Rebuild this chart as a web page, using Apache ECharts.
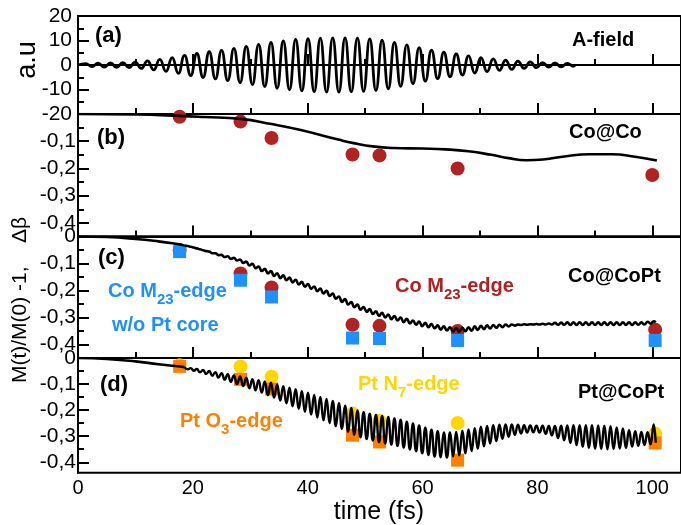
<!DOCTYPE html>
<html><head><meta charset="utf-8">
<script src="https://cdn.jsdelivr.net/npm/echarts@6/dist/echarts.min.js"></script>
<style>html,body{margin:0;padding:0;background:#fff}#c{width:681px;height:525px}</style>
</head><body><div id="c"></div>
<script>
// ---------- data ----------
const xTickLabels = [0, 20, 40, 60, 80, 100];
const yTicksA = [20, 10, 0, -10, -20];
const yTicksM = [0, -0.1, -0.2, -0.3, -0.4];
const yMinorM = [-0.05, -0.15, -0.25, -0.35];

// (a) A-field : extrema
const aField = [[0,0],[1.35,0.6],[2.43,-0.7],[3.5,0.8],[4.58,-0.9],[5.65,0.9],[6.73,-1.0],[7.8,1.0],[8.88,-1.1],[9.95,1.2],[11.03,-1.4],[12.1,1.7],[13.18,-2.0],[14.25,2.3],[15.33,-2.6],[16.4,3.0],[17.48,-3.4],[18.55,3.9],[19.63,-4.3],[20.7,4.7],[21.78,-5.1],[22.85,5.4],[23.93,-5.7],[25,6.0],[26.08,-6.4],[27.15,6.8],[28.23,-7.2],[29.3,7.6],[30.38,-8.0],[31.45,8.4],[32.53,-8.8],[33.6,9.2],[34.68,-9.5],[35.75,9.8],[36.83,-10.1],[37.9,10.4],[38.98,-10.6],[40.05,10.8],[41.13,-10.9],[42.2,11.0],[43.28,-11.1],[44.35,11.1],[45.43,-11.1],[46.5,11.1],[47.58,-11.0],[48.65,11.0],[49.73,-10.8],[50.8,10.7],[51.88,-10.4],[52.95,10.1],[54.03,-9.7],[55.1,9.2],[56.18,-8.7],[57.25,8.2],[58.33,-7.6],[59.4,7.1],[60.48,-6.6],[61.55,6.1],[62.63,-5.6],[63.7,5.2],[64.78,-4.8],[65.85,4.5],[66.93,-4.1],[68,3.7],[69.08,-3.3],[70.15,3.0],[71.23,-2.7],[72.3,2.5],[73.38,-2.2],[74.45,2.0],[75.53,-1.8],[76.6,1.6],[77.68,-1.4],[78.75,1.3],[79.83,-1.1],[80.9,1.0],[81.98,-0.9],[83.05,0.9],[84.13,-0.8],[85.2,0.7],[86.28,-0.5],[86.6,0]];

// (b) Co@Co
const coCoLine = [[0,0],[10,-0.002],[17.7,-0.007],[22,-0.011],[28.3,-0.018],[33.7,-0.037],[38.6,-0.058],[45.5,-0.095],[48,-0.107],[51.3,-0.119],[55,-0.125],[60,-0.127],[64,-0.130],[68,-0.137],[72,-0.150],[75,-0.162],[78,-0.170],[81,-0.167],[85,-0.155],[89,-0.148],[93,-0.148],[97,-0.157],[100.8,-0.171]];
const coCoTimes = [17.7, 28.3, 33.7, 47.8, 52.5, 66.1, 100];
const coCoPoints = [-0.01, -0.028, -0.088, -0.149, -0.152, -0.2, -0.224];

// (c) Co@CoPt
const coCoPtStart = [[0,0],[5,-0.002],[10,-0.009],[14,-0.018],[17,-0.027],[18.55,-0.033]];
const coCoPtOsc = [[18.55,-0.033],[19.09,-0.035],[19.63,-0.038],[20.16,-0.041],[20.7,-0.044],[21.24,-0.047],[21.78,-0.051],[22.31,-0.054],[22.85,-0.056],[23.39,-0.062],[23.93,-0.062],[24.46,-0.069],[25.0,-0.068],[25.54,-0.076],[26.08,-0.073],[26.61,-0.083],[27.15,-0.079],[27.69,-0.089],[28.23,-0.085],[28.76,-0.098],[29.3,-0.093],[29.84,-0.107],[30.38,-0.101],[30.91,-0.117],[31.45,-0.111],[31.99,-0.128],[32.53,-0.120],[33.06,-0.137],[33.6,-0.128],[34.14,-0.146],[34.68,-0.136],[35.21,-0.154],[35.75,-0.144],[36.29,-0.162],[36.83,-0.152],[37.36,-0.170],[37.9,-0.160],[38.44,-0.178],[38.98,-0.168],[39.51,-0.186],[40.05,-0.176],[40.59,-0.194],[41.13,-0.185],[41.66,-0.203],[42.2,-0.193],[42.74,-0.211],[43.28,-0.201],[43.81,-0.220],[44.35,-0.211],[44.89,-0.230],[45.43,-0.222],[45.96,-0.242],[46.5,-0.232],[47.04,-0.252],[47.58,-0.243],[48.11,-0.262],[48.65,-0.252],[49.19,-0.271],[49.73,-0.261],[50.26,-0.279],[50.8,-0.269],[51.34,-0.287],[51.88,-0.277],[52.41,-0.294],[52.95,-0.283],[53.49,-0.300],[54.03,-0.289],[54.56,-0.306],[55.1,-0.295],[55.64,-0.311],[56.18,-0.300],[56.71,-0.317],[57.25,-0.305],[57.79,-0.322],[58.33,-0.311],[58.86,-0.327],[59.4,-0.315],[59.94,-0.332],[60.48,-0.320],[61.01,-0.336],[61.55,-0.324],[62.09,-0.340],[62.63,-0.329],[63.16,-0.345],[63.7,-0.333],[64.24,-0.348],[64.78,-0.336],[65.31,-0.352],[65.85,-0.339],[66.39,-0.353],[66.93,-0.338],[67.46,-0.351],[68.0,-0.336],[68.54,-0.349],[69.08,-0.333],[69.61,-0.346],[70.15,-0.331],[70.69,-0.343],[71.23,-0.329],[71.76,-0.341],[72.3,-0.328],[72.84,-0.338],[73.38,-0.327],[73.91,-0.336],[74.45,-0.326],[74.99,-0.333],[75.53,-0.326],[76.06,-0.330],[76.6,-0.326],[77.14,-0.328],[77.68,-0.325],[78.21,-0.327],[78.75,-0.325],[79.29,-0.326],[79.83,-0.324],[80.36,-0.326],[80.9,-0.323],[81.44,-0.326],[81.98,-0.322],[82.51,-0.326],[83.05,-0.320],[83.59,-0.327],[84.13,-0.319],[84.66,-0.327],[85.2,-0.318],[85.74,-0.328],[86.28,-0.318],[86.81,-0.328],[87.35,-0.318],[87.89,-0.328],[88.43,-0.318],[88.96,-0.328],[89.5,-0.318],[90.04,-0.328],[90.58,-0.318],[91.11,-0.328],[91.65,-0.318],[92.19,-0.328],[92.73,-0.318],[93.26,-0.328],[93.8,-0.318],[94.34,-0.328],[94.88,-0.318],[95.41,-0.328],[95.95,-0.318],[96.49,-0.328],[97.03,-0.318],[97.56,-0.327],[98.1,-0.318],[98.64,-0.326],[99.18,-0.316],[99.71,-0.323],[100.25,-0.314],[100.6,-0.318]];
const edgeTimes = [17.7, 28.3, 33.7, 47.8, 52.5, 66.1, 100.5];
const coM23 = [-0.05, -0.137, -0.189, -0.327, -0.331, -0.35, -0.345];
const coM23NoPt = [-0.056, -0.162, -0.224, -0.376, -0.378, -0.385, -0.385];

// (d) Pt@CoPt
const ptCoPtStart = [[0,0],[5,-0.004],[10,-0.013],[14,-0.024],[17,-0.031],[18.55,-0.035]];
const ptCoPtOsc = [[18.55,-0.035],[19.09,-0.043],[19.63,-0.039],[20.16,-0.049],[20.7,-0.042],[21.24,-0.055],[21.78,-0.046],[22.31,-0.061],[22.85,-0.050],[23.39,-0.068],[23.93,-0.054],[24.46,-0.075],[25.0,-0.058],[25.54,-0.083],[26.08,-0.062],[26.61,-0.091],[27.15,-0.067],[27.69,-0.100],[28.23,-0.071],[28.76,-0.108],[29.3,-0.076],[29.84,-0.116],[30.38,-0.081],[30.91,-0.124],[31.45,-0.085],[31.99,-0.133],[32.53,-0.090],[33.06,-0.143],[33.6,-0.095],[34.14,-0.152],[34.68,-0.101],[35.21,-0.163],[35.75,-0.108],[36.29,-0.174],[36.83,-0.114],[37.36,-0.185],[37.9,-0.120],[38.44,-0.195],[38.98,-0.127],[39.51,-0.206],[40.05,-0.133],[40.59,-0.217],[41.13,-0.142],[41.66,-0.228],[42.2,-0.149],[42.74,-0.239],[43.28,-0.157],[43.81,-0.250],[44.35,-0.165],[44.89,-0.261],[45.43,-0.173],[45.96,-0.272],[46.5,-0.183],[47.04,-0.283],[47.58,-0.192],[48.11,-0.295],[48.65,-0.201],[49.19,-0.304],[49.73,-0.208],[50.26,-0.311],[50.8,-0.214],[51.34,-0.317],[51.88,-0.218],[52.41,-0.323],[52.95,-0.222],[53.49,-0.328],[54.03,-0.226],[54.56,-0.333],[55.1,-0.232],[55.64,-0.338],[56.18,-0.237],[56.71,-0.344],[57.25,-0.244],[57.79,-0.351],[58.33,-0.251],[58.86,-0.358],[59.4,-0.259],[59.94,-0.366],[60.48,-0.267],[61.01,-0.372],[61.55,-0.275],[62.09,-0.378],[62.63,-0.281],[63.16,-0.381],[63.7,-0.286],[64.24,-0.382],[64.78,-0.286],[65.31,-0.378],[65.85,-0.284],[66.39,-0.373],[66.93,-0.279],[67.46,-0.366],[68.0,-0.274],[68.54,-0.357],[69.08,-0.269],[69.61,-0.348],[70.15,-0.264],[70.69,-0.339],[71.23,-0.261],[71.76,-0.328],[72.3,-0.258],[72.84,-0.319],[73.38,-0.256],[73.91,-0.310],[74.45,-0.255],[74.99,-0.302],[75.53,-0.255],[76.06,-0.295],[76.6,-0.256],[77.14,-0.290],[77.68,-0.258],[78.21,-0.286],[78.75,-0.259],[79.29,-0.285],[79.83,-0.260],[80.36,-0.286],[80.9,-0.260],[81.44,-0.291],[81.98,-0.261],[82.51,-0.297],[83.05,-0.261],[83.59,-0.307],[84.13,-0.260],[84.66,-0.316],[85.2,-0.259],[85.74,-0.326],[86.28,-0.258],[86.81,-0.334],[87.35,-0.258],[87.89,-0.341],[88.43,-0.258],[88.96,-0.345],[89.5,-0.258],[90.04,-0.348],[90.58,-0.259],[91.11,-0.349],[91.65,-0.260],[92.19,-0.350],[92.73,-0.262],[93.26,-0.349],[93.8,-0.266],[94.34,-0.347],[94.88,-0.270],[95.41,-0.345],[95.95,-0.277],[96.49,-0.340],[97.03,-0.281],[97.56,-0.337],[98.1,-0.284],[98.64,-0.334],[99.18,-0.285],[99.71,-0.331],[100.25,-0.255],[100.6,-0.325]];
const ptN7 = [-0.028, -0.033, -0.072, -0.213, -0.241, -0.249, -0.29];
const ptO3 = [-0.032, -0.082, -0.119, -0.296, -0.322, -0.392, -0.326];

// ---------- chart ----------
const FONT = 'Liberation Sans, Arial, Helvetica, sans-serif';
const RED = '#b22222', BLUE = '#1e90ff', YELLOW = '#ffd700', ORANGE = '#ff7f00';
const zip = (xs, ys) => xs.map((x, i) => [x, ys[i]]);
const fmt = v => v === 0 ? '0' : v.toFixed(1).replace('.', ',');

const grids = [
  {top: 16, height: 98},
  {top: 114, height: 122.5},
  {top: 236.5, height: 121.5},
  {top: 358, height: 114.7}
].map(g => Object.assign({left: 78, width: 604.8, show: true, borderColor: '#000', borderWidth: 2, backgroundColor: 'transparent'}, g));

const xAxes = grids.map((g, i) => ({
  type: 'value', gridIndex: i, min: 0, max: 105, interval: 20,
  axisLine: {show: true, lineStyle: {color: '#000', width: 2}},
  axisTick: {show: true, inside: true, length: 11, lineStyle: {color: '#000', width: 2}},
  minorTick: {show: true, splitNumber: 2, length: 6, lineStyle: {color: '#000', width: 2}},
  splitLine: {show: false},
  axisLabel: {show: i === 3, color: '#000', fontSize: 20, fontFamily: FONT, margin: 6,
    customValues: xTickLabels}
}));

function mAxis(gi, min, labels) {
  return [{
    type: 'value', gridIndex: gi, min: min, max: 0,
    axisLine: {show: true, lineStyle: {color: '#000', width: 2}},
    axisTick: {show: true, inside: true, length: 11, lineStyle: {color: '#000', width: 2}, customValues: yTicksM},
    splitLine: {show: false},
    axisLabel: {show: true, color: '#000', fontSize: 21, fontFamily: FONT, margin: 2, formatter: fmt, customValues: labels}
  }, {
    type: 'value', gridIndex: gi, min: min, max: 0, position: 'left',
    axisLine: {show: false},
    axisTick: {show: true, inside: true, length: 6, lineStyle: {color: '#000', width: 2}, customValues: yMinorM},
    splitLine: {show: false},
    axisLabel: {show: false}
  }];
}

const yAxes = [{
  type: 'value', gridIndex: 0, min: -20, max: 20, interval: 10,
  axisLine: {show: true, lineStyle: {color: '#000', width: 2}},
  axisTick: {show: true, inside: true, length: 11, lineStyle: {color: '#000', width: 2}},
  minorTick: {show: true, splitNumber: 2, length: 6, lineStyle: {color: '#000', width: 2}},
  splitLine: {show: false},
  axisLabel: {show: true, color: '#000', fontSize: 21, fontFamily: FONT, margin: 6, customValues: yTicksA}
}].concat(
  mAxis(1, -0.45, yTicksM.filter(v => v !== 0)),
  mAxis(2, -0.45, yTicksM),
  mAxis(3, -0.44, yTicksM)
);

const lineBase = {type: 'line', symbol: 'none', silent: true, animation: false,
  lineStyle: {color: '#000', width: 2.6}};
const oscLine = (data, xi, yi, w) => Object.assign({}, lineBase, {data, xAxisIndex: xi, yAxisIndex: yi,
  smooth: 0.5, smoothMonotone: 'x', lineStyle: {color: '#000', width: w}});
const smLine = (data, xi, yi, w) => Object.assign({}, lineBase, {data, xAxisIndex: xi, yAxisIndex: yi,
  smooth: true, lineStyle: {color: '#000', width: w}});
const pts = (data, xi, yi, symbol, size, color) => ({type: 'scatter', data, xAxisIndex: xi, yAxisIndex: yi,
  symbol, symbolSize: size, itemStyle: {color, borderWidth: 0, opacity: 1}, animation: false, silent: true});

const series = [
  oscLine(aField, 0, 0, 2.8),
  smLine(coCoLine, 1, 1, 2.6),
  smLine(coCoPtStart, 2, 3, 2.6),
  oscLine(coCoPtOsc, 2, 3, 2.6),
  smLine(ptCoPtStart, 3, 5, 2.6),
  oscLine(ptCoPtOsc, 3, 5, 2.4),
  pts(zip(coCoTimes, coCoPoints), 1, 1, 'circle', 14, RED),
  pts(zip(edgeTimes, coM23), 2, 3, 'circle', 14, RED),
  pts(zip(edgeTimes, coM23NoPt), 2, 3, 'rect', 13, BLUE),
  pts(zip(edgeTimes, ptN7), 3, 5, 'circle', 14, YELLOW),
  pts(zip(edgeTimes, ptO3), 3, 5, 'rect', 13, ORANGE)
];

function txt(x, y, text, opts) {
  return Object.assign({type: 'text', x, y, z: 100, silent: true,
    style: Object.assign({text, fill: '#000', font: 'bold 20px ' + FONT, align: 'left', verticalAlign: 'middle'}, opts || {})});
}
function subTxt(x, y, a, sub, b, color) {
  const m = {fontSize: 20, fontWeight: 'bold', fontFamily: FONT, fill: color, lineHeight: 24, verticalAlign: 'top'};
  const s = {fontSize: 15, fontWeight: 'bold', fontFamily: FONT, fill: color, lineHeight: 24, verticalAlign: 'top', padding: [11, 0, 0, 0]};
  return {type: 'text', x, y, z: 100, silent: true,
    style: {text: '{m|' + a + '}{s|' + sub + '}{m|' + b + '}', rich: {m, s}, align: 'left', verticalAlign: 'top', fill: color}};
}

const graphic = [
  txt(95, 36, '(a)', {font: 'bold 22px ' + FONT}), txt(97, 137.5, '(b)', {font: 'bold 22px ' + FONT}),
  txt(98, 257.5, '(c)', {font: 'bold 22px ' + FONT}), txt(100, 385, '(d)', {font: 'bold 22px ' + FONT}),
  txt(572, 40, 'A-field'), txt(569, 132.5, 'Co@Co'), txt(568, 276, 'Co@CoPt'), txt(578, 392.5, 'Pt@CoPt'),
  subTxt(395, 276.3, 'Co M', '23', '-edge', RED),
  subTxt(108, 281.5, 'Co M', '23', '-edge', BLUE),
  txt(112, 325, 'w/o Pt core', {fill: BLUE}),
  subTxt(358, 374.5, 'Pt N', '7', '-edge', YELLOW),
  subTxt(180, 411.5, 'Pt O', '3', '-edge', ORANGE),
  txt(379, 512, 'time (fs)', {font: '25px ' + FONT, align: 'center'}),
  Object.assign(txt(28, 60, 'a.u', {font: '27px ' + FONT, align: 'center'}), {rotation: Math.PI / 2}),
  Object.assign(txt(20, 300, 'M(t)/M(0) -1,    \u0394\u03b2', {font: '21px ' + FONT, align: 'center'}), {rotation: Math.PI / 2})
];

const chart = echarts.init(document.getElementById('c'), null, {renderer: 'canvas'});
chart.setOption({
  animation: false,
  backgroundColor: '#fff',
  grid: grids, xAxis: xAxes, yAxis: yAxes, series, graphic
});
</script></body></html>
